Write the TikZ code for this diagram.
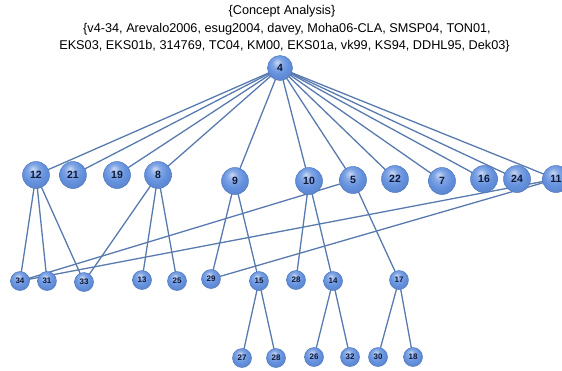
\documentclass[tikz,border=0pt]{standalone}
\usepackage{fontspec}
\setmainfont{Liberation Sans}
\usetikzlibrary{backgrounds}
\definecolor{bb}{RGB}{100,145,222}
\definecolor{edgecol}{RGB}{88,122,175}
\definecolor{bord}{RGB}{80,120,190}
\definecolor{numcol}{RGB}{15,25,55}
\pgfdeclareradialshading{myball}{\pgfpoint{-6bp}{12bp}}{%
  color(0bp)=(bb!35!white); color(10bp)=(bb!80!white); color(20bp)=(bb);
  color(30bp)=(bb!92!black); color(50bp)=(bb!80!black)}
\begin{document}
\begin{tikzpicture}[x=1pt,y=-1pt,
  ball/.style={circle,draw=bord,line width=0.5pt,shading=myball,inner sep=0pt,
    font=\fontsize{10.5}{10}\selectfont\bfseries,text=numcol},
  big/.style={ball,minimum size=27pt},
  small/.style={ball,minimum size=19pt,font=\fontsize{8}{8}\selectfont\bfseries},
  edge/.style={draw=edgecol,line width=1.3pt},
  ttl/.style={font=\fontsize{12.7}{17}\selectfont,inner sep=0pt}]
\useasboundingbox (0,0) rectangle (562,370);
\node[ttl] (title) at (282,11) {\{Concept Analysis\}};
\node[ttl] (l2) at (287,29) {\{v4-34, Arevalo2006, esug2004, davey, Moha06-CLA, SMSP04, TON01,};
\node[ttl] (l3) at (284.5,46) {EKS03, EKS01b, 314769, TC04, KM00, EKS01a, vk99, KS94, DDHL95, Dek03\}};
\node[big,minimum size=25pt] (n4) at (280,68) {4};
\node[big] (n12) at (36,175) {12};
\node[big] (n21) at (73,175) {21};
\node[big] (n19) at (117,175) {19};
\node[big] (n8) at (158,175) {8};
\node[big] (n9) at (235,181) {9};
\node[big] (n10) at (309,181) {10};
\node[big] (n5) at (353,180) {5};
\node[big] (n22) at (395,179) {22};
\node[big] (n7) at (442,181) {7};
\node[big] (n16) at (484,179) {16};
\node[big] (n24) at (517,179) {24};
\node[big] (n11) at (556,179) {11};
\node[small] (n34) at (20,281) {34};
\node[small] (n31) at (47,281) {31};
\node[small] (n33) at (84,282) {33};
\node[small] (n13) at (142,280) {13};
\node[small] (n25) at (177,281) {25};
\node[small] (n29) at (211,279) {29};
\node[small] (n15) at (259,281) {15};
\node[small] (n28a) at (296,280) {28};
\node[small] (n14) at (333,281) {14};
\node[small] (n17) at (399,280) {17};
\node[small] (n27) at (242,358) {27};
\node[small] (n28b) at (276,358) {28};
\node[small] (n26) at (314,357) {26};
\node[small] (n32) at (350,357) {32};
\node[small] (n30) at (378,357) {30};
\node[small] (n18) at (413,357) {18};
\begin{pgfonlayer}{background}
\foreach \c in {n12,n21,n19,n8,n9,n10,n5,n22,n7,n16,n24,n11}
  \draw[edge] (n4.center) -- (\c.center);
\foreach \a/\b in {n12/n34,n12/n31,n12/n33,n8/n33,n8/n13,n8/n25,n9/n29,n9/n15,
  n10/n28a,n10/n14,n5/n34,n5/n17,n11/n34,n11/n29,n15/n27,n15/n28b,n14/n26,n14/n32,
  n17/n30,n17/n18}
  \draw[edge] (\a.center) -- (\b.center);
\end{pgfonlayer}
\end{tikzpicture}
\end{document}
